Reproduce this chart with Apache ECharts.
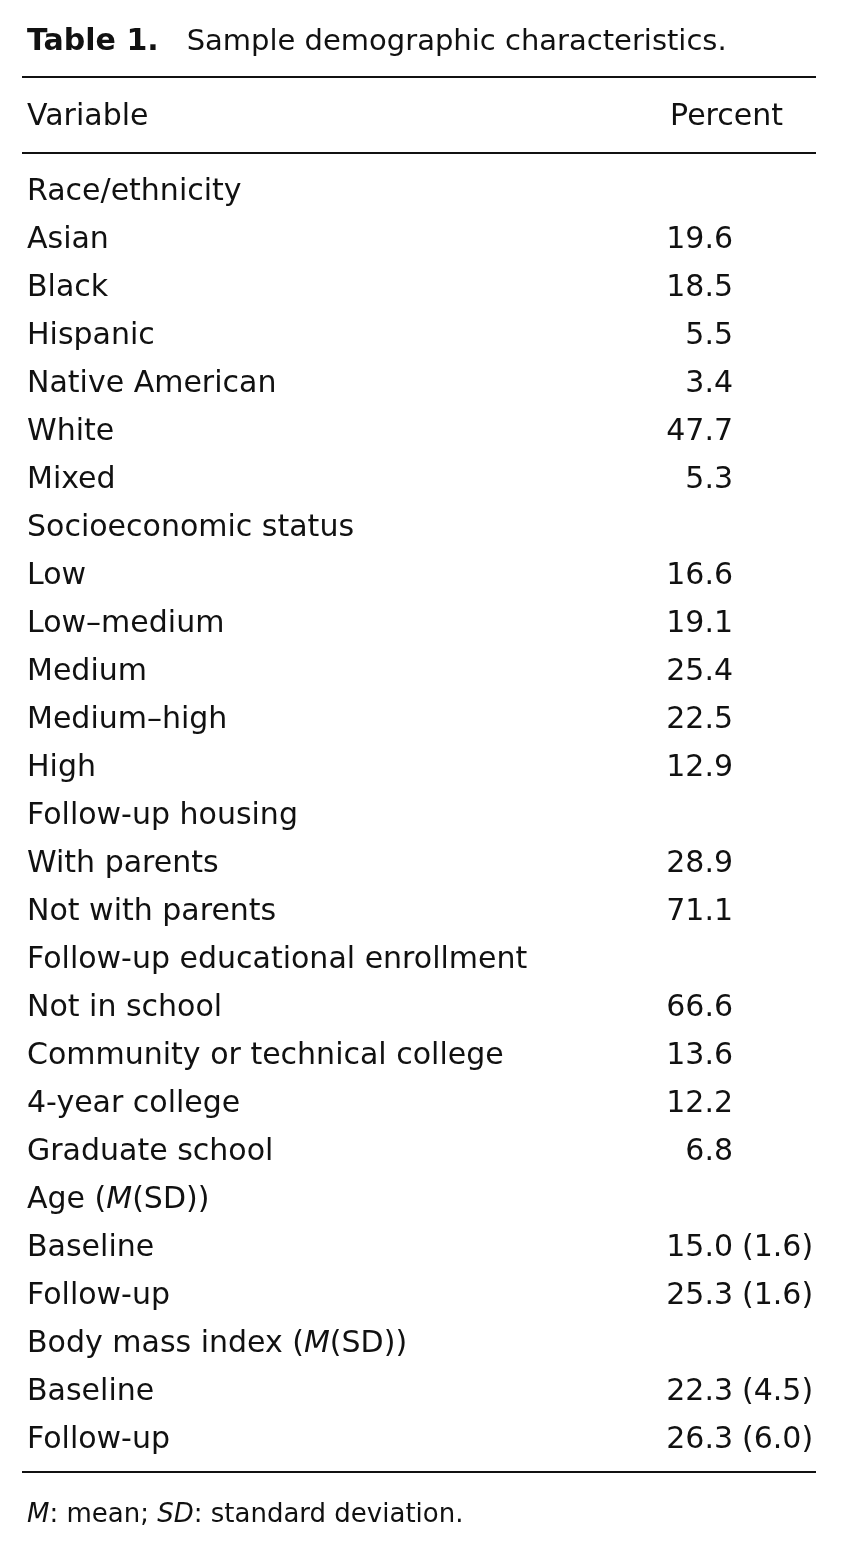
<!DOCTYPE html>
<html>
<head>
<meta charset="utf-8">
<script src="https://cdn.jsdelivr.net/npm/echarts@6/dist/echarts.min.js"></script>
<style>
  html, body { margin: 0; padding: 0; background: #fff; }
  #main { width: 841px; height: 1556px; }
</style>
</head>
<body>
<div id="main"></div>
<script>
// table rows (group headings have no value)
var variables = [
    'Race/ethnicity', 'Asian', 'Black', 'Hispanic', 'Native American', 'White', 'Mixed',
    'Socioeconomic status', 'Low', 'Low\u2013medium', 'Medium', 'Medium\u2013high', 'High',
    'Follow-up housing', 'With parents', 'Not with parents',
    'Follow-up educational enrollment', 'Not in school', 'Community or technical college',
    '4-year college', 'Graduate school',
    'Age (M(SD))', 'Baseline', 'Follow-up',
    'Body mass index (M(SD))', 'Baseline', 'Follow-up'
];
var percent = [
    null, 19.6, 18.5, 5.5, 3.4, 47.7, 5.3,
    null, 16.6, 19.1, 25.4, 22.5, 12.9,
    null, 28.9, 71.1,
    null, 66.6, 13.6, 12.2, 6.8,
    null, 15.0, 25.3,
    null, 22.3, 26.3
];
var sd = [
    null, null, null, null, null, null, null,
    null, null, null, null, null, null,
    null, null, null,
    null, null, null, null, null,
    null, 1.6, 1.6,
    null, 4.5, 6.0
];
var headers = ['Variable', 'Percent'];
var titleBold = 'Table 1.';
var titleText = 'Sample demographic characteristics.';
var footnote = '{i|M}: mean; {i|SD}: standard deviation.';

var FONT = '"DejaVu Sans", "Open Sans", sans-serif';
var FS = 30;
var textColor = '#111';

var chart = echarts.init(document.getElementById('main'));

var nameData = [], valData = [], sdData = [];
for (var i = 0; i < variables.length; i++) {
    nameData.push([0, i, variables[i]]);
    if (percent[i] != null) valData.push([1, i, percent[i]]);
    if (sd[i] != null) sdData.push([1, i, sd[i]]);
}

var baseLabel = {
    show: true,
    fontFamily: FONT,
    fontSize: FS,
    color: textColor,
    opacity: 1,
    distance: 0
};

chart.setOption({
    backgroundColor: '#fff',
    animation: false,
    grid: { left: 27, top: 168, width: 706, height: 1296 },
    xAxis: { type: 'value', min: 0, max: 1, show: false },
    yAxis: { type: 'value', min: -0.5, max: 26.5, inverse: true, show: false },
    series: [
        {
            type: 'scatter',
            symbolSize: 0,
            itemStyle: { opacity: 1 },
            data: nameData,
            label: Object.assign({}, baseLabel, {
                position: 'right',
                formatter: function (p) {
                    return p.data[2].replace('(M(', '({i|M}(');
                },
                rich: { i: { fontFamily: FONT, fontSize: FS, fontStyle: 'italic', color: textColor } }
            })
        },
        {
            type: 'scatter',
            symbolSize: 0,
            itemStyle: { opacity: 1 },
            data: valData,
            label: Object.assign({}, baseLabel, {
                position: 'left',
                formatter: function (p) { return p.data[2].toFixed(1); }
            })
        },
        {
            type: 'scatter',
            symbolSize: 0,
            itemStyle: { opacity: 1 },
            data: sdData,
            label: Object.assign({}, baseLabel, {
                position: 'right',
                distance: 9,
                formatter: function (p) { return '(' + p.data[2].toFixed(1) + ')'; }
            })
        }
    ],
    graphic: [
        { type: 'text', left: 27, top: 27,
          style: { text: '{b|' + titleBold + '}' + titleText, font: '29px ' + FONT, fill: textColor,
                   rich: { b: { fontFamily: FONT, fontSize: 30, fontWeight: 'bold', fill: textColor, padding: [0, 28, 0, 0] } } } },
        { type: 'line', shape: { x1: 22, y1: 77, x2: 816, y2: 77 }, style: { stroke: '#111', lineWidth: 2 } },
        { type: 'text', left: 27, top: 102, style: { text: headers[0], font: FS + 'px ' + FONT, fill: textColor } },
        { type: 'text', right: 58, top: 102, style: { text: headers[1], font: FS + 'px ' + FONT, fill: textColor } },
        { type: 'line', shape: { x1: 22, y1: 153, x2: 816, y2: 153 }, style: { stroke: '#111', lineWidth: 2 } },
        { type: 'line', shape: { x1: 22, y1: 1472, x2: 816, y2: 1472 }, style: { stroke: '#111', lineWidth: 2 } },
        { type: 'text', left: 27, top: 1502,
          style: { text: footnote, font: '26px ' + FONT, fill: textColor,
                   rich: { i: { fontFamily: FONT, fontSize: 26, fontStyle: 'italic', fill: textColor } } } }
    ]
});
</script>
</body>
</html>
